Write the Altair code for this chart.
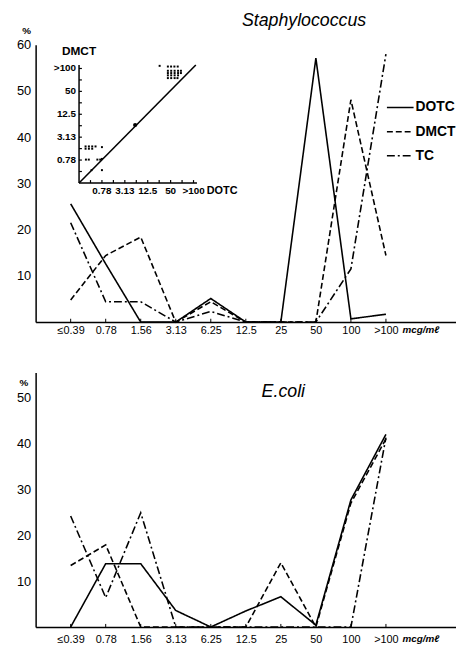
import altair as alt
import pandas as pd

# ---------------- data ----------------
cats = ["≤0.39", "0.78", "1.56", "3.13", "6.25", "12.5", "25", "50", "100", ">100"]
unit = "mcg/mℓ"
series = ["DOTC", "DMCT", "TC"]

staph_dotc = [25.6, 12.6, 0, 0, 5.1, 0, 0, 57.1, 0.7, 1.7]
staph_dmct = [4.8, 14.4, 18.4, 0, 4.4, 0, 0, 0, 48.1, 14.4]
staph_tc = [21.5, 4.4, 4.4, 0, 2.3, 0, 0, 0, 11.5, 58.0]

ecoli_dotc = [0, 13.8, 13.8, 3.6, 0, 3.5, 6.6, 0.4, 27.7, 42.0]
ecoli_dmct = [13.4, 17.9, 0, 0, 0, 0, 14.0, 0, 27.0, 41.0]
ecoli_tc = [24.2, 6.4, 24.9, 0, 0, 0, 0, 0, 0, 41.3]

staph_yticks = [10, 20, 30, 40, 50, 60]
ecoli_yticks = [10, 20, 30, 40, 50]

# inset (DOTC vs DMCT MIC scatter, dilution-step units)
inset_tick_pos = [1, 2, 3, 4, 5, 6, 7, 8, 9, 10]
inset_label_pos = [2, 4, 6, 8, 10]
inset_labels = ["0.78", "3.13", "12.5", "50", ">100"]
inset_dotc = [7.76, 8.04, 8.33, 8.62,
              7.76, 8.05, 8.35, 8.65, 8.90,
              7.76, 8.05, 8.35, 8.65, 8.90,
              7.76, 8.05, 8.35, 8.65,
              7.76, 8.05, 8.35, 8.60,
              7.04,
              0.57, 0.86, 1.15, 1.44,
              0.57, 0.86, 1.15,
              2.00,
              0.60, 0.85,
              1.60, 1.85, 2.00,
              1.09, 2.00]
inset_dmct = [10.17, 10.17, 10.17, 10.17,
              9.80, 9.80, 9.80, 9.80, 9.80,
              9.60, 9.60, 9.60, 9.60, 9.60,
              9.40, 9.40, 9.40, 9.40,
              9.16, 9.16, 9.16, 9.16,
              10.23,
              3.19, 3.19, 3.19, 3.19,
              2.99, 2.99, 2.99,
              3.13,
              2.04, 2.04,
              2.04, 2.04, 2.10,
              1.12, 1.12]
inset_big_dotc = [4.90]
inset_big_dmct = [5.06]
diag_dotc = [0, 10.2]
diag_dmct = [0, 10.3]

FONT = "Liberation Sans"
W = 426
H_TOP = 281
H_BOT = 258


def long_df(vals_list):
    rows = []
    for s, vals in zip(series, vals_list):
        for i, (c, v) in enumerate(zip(cats, vals)):
            rows.append({"cat": c, "idx": i, "series": s, "pct": v})
    return pd.DataFrame(rows)


xscale = alt.Scale(domain=cats + [unit], type="point", padding=1)
dash_scale = alt.Scale(domain=series, range=[[1, 0], [6, 3], [8, 3, 2, 3]])


def main_layer(vals_list, ymax, yticks, height, label_pad, legend, title, title_xy, pct_xy):
    df = long_df(vals_list)
    xenc = alt.X("cat:N", scale=xscale, sort=None,
                 axis=alt.Axis(values=cats, title=None, ticks=False, labelPadding=label_pad,
                               labelAngle=0, labelFont=FONT, labelFontSize=11,
                               labelColor="black", domainColor="black", domainWidth=1.5,
                               grid=False))
    yenc = alt.Y("pct:Q", scale=alt.Scale(domain=[0, ymax], nice=False, zero=True),
                 axis=alt.Axis(values=yticks, title=None, ticks=False, labelPadding=5,
                               labelFont=FONT, labelFontSize=13, labelColor="black",
                               domainColor="black", domainWidth=1.5, grid=False,
                               minExtent=28, maxExtent=28))
    lines = alt.Chart(df).mark_line(color="black", strokeWidth=1.6).encode(
        x=xenc, y=yenc,
        strokeDash=alt.StrokeDash("series:N", scale=dash_scale, legend=legend),
        order=alt.Order("idx:Q"),
    )
    tick_df = pd.DataFrame({"cat": cats, "t0": [0] * len(cats), "t1": [ymax * 0.012] * len(cats)})
    ticks = alt.Chart(tick_df).mark_rule(color="black", strokeWidth=1).encode(
        x=alt.X("cat:N", scale=xscale, sort=None),
        y=alt.Y("t0:Q"), y2="t1:Q")
    unit_df = pd.DataFrame({"cat": [unit], "t": [unit]})
    unit_txt = alt.Chart(unit_df).mark_text(font=FONT, fontSize=10, fontStyle="italic",
                                            fontWeight="bold", baseline="top", color="black").encode(
        x=alt.X("cat:N", scale=xscale, sort=None), y=alt.value(height + label_pad), text="t:N")
    tdf = pd.DataFrame({"t": [title]})
    ttl = alt.Chart(tdf).mark_text(font=FONT, fontSize=18, fontStyle="italic", color="black",
                                   align="center", baseline="middle").encode(
        x=alt.value(title_xy[0]), y=alt.value(title_xy[1]), text="t:N")
    pdf = pd.DataFrame({"t": ["%"]})
    pct = alt.Chart(pdf).mark_text(font=FONT, fontSize=10, fontWeight="bold", color="black",
                                   align="center", baseline="middle").encode(
        x=alt.value(pct_xy[0]), y=alt.value(pct_xy[1]), text="t:N")
    return alt.layer(lines, ticks, unit_txt, ttl, pct)


legend = alt.Legend(orient="none", legendX=355, legendY=49, title=None, symbolType="stroke",
                    symbolSize=729, symbolStrokeWidth=1.5, symbolStrokeColor="black",
                    labelFont=FONT, labelFontSize=14, labelFontWeight="bold", labelColor="black",
                    labelOffset=1, rowPadding=2.5, padding=0)

top_main = main_layer([staph_dotc, staph_dmct, staph_tc], 60, staph_yticks, H_TOP, 3,
                      legend, "Staphylococcus", (272, -24), (-9, -14))

# ---------------- inset ----------------
ix = alt.Scale(domain=[0, 10], range=[44, 160], nice=False, zero=False)
iy = alt.Scale(domain=[0, 10], range=[140, 24], nice=False, zero=False)

pts = alt.Chart(pd.DataFrame({"ix": inset_dotc, "iy": inset_dmct})).mark_point(
    shape="square", filled=True, size=4, color="black", opacity=1).encode(
    x=alt.X("ix:Q", scale=ix, axis=None), y=alt.Y("iy:Q", scale=iy, axis=None))
big = alt.Chart(pd.DataFrame({"ix": inset_big_dotc, "iy": inset_big_dmct})).mark_point(
    shape="circle", filled=True, size=18, color="black", opacity=1).encode(
    x=alt.X("ix:Q", scale=ix, axis=None), y=alt.Y("iy:Q", scale=iy, axis=None))
diag = alt.Chart(pd.DataFrame({"ix": diag_dotc, "iy": diag_dmct})).mark_line(
    color="black", strokeWidth=1.6).encode(
    x=alt.X("ix:Q", scale=ix, axis=None), y=alt.Y("iy:Q", scale=iy, axis=None))
xaxis_line = alt.Chart(pd.DataFrame({"ix": [0], "ix2": [10.3], "iy": [0]})).mark_rule(
    color="black", strokeWidth=1.5).encode(
    x=alt.X("ix:Q", scale=ix, axis=None), x2="ix2:Q", y=alt.Y("iy:Q", scale=iy, axis=None))
yaxis_line = alt.Chart(pd.DataFrame({"ix": [0], "iy": [0], "iy2": [10.3]})).mark_rule(
    color="black", strokeWidth=1.5).encode(
    x=alt.X("ix:Q", scale=ix, axis=None), y=alt.Y("iy:Q", scale=iy, axis=None), y2="iy2:Q")
xt = alt.Chart(pd.DataFrame({"ix": inset_tick_pos, "iy": [0] * 10, "iy2": [0.25] * 10})).mark_rule(
    color="black", strokeWidth=1.2).encode(
    x=alt.X("ix:Q", scale=ix, axis=None), y=alt.Y("iy:Q", scale=iy, axis=None), y2="iy2:Q")
yt = alt.Chart(pd.DataFrame({"iy": inset_tick_pos, "ix": [0] * 10, "ix2": [0.25] * 10})).mark_rule(
    color="black", strokeWidth=1.2).encode(
    x=alt.X("ix:Q", scale=ix, axis=None), x2="ix2:Q", y=alt.Y("iy:Q", scale=iy, axis=None))
xl = alt.Chart(pd.DataFrame({"ix": inset_label_pos, "t": inset_labels})).mark_text(
    font=FONT, fontSize=10, fontWeight="bold", color="black", baseline="middle").encode(
    x=alt.X("ix:Q", scale=ix, axis=None), y=alt.value(148), text="t:N")
yl = alt.Chart(pd.DataFrame({"iy": inset_label_pos, "t": inset_labels})).mark_text(
    font=FONT, fontSize=10, fontWeight="bold", color="black", align="right", baseline="middle").encode(
    x=alt.value(41), y=alt.Y("iy:Q", scale=iy, axis=None), text="t:N")
xname = alt.Chart(pd.DataFrame({"t": ["DOTC"]})).mark_text(
    font=FONT, fontSize=11, fontWeight="bold", color="black").encode(
    x=alt.value(189), y=alt.value(148), text="t:N")
yname = alt.Chart(pd.DataFrame({"t": ["DMCT"]})).mark_text(
    font=FONT, fontSize=12, fontWeight="bold", color="black").encode(
    x=alt.value(44), y=alt.value(6), text="t:N")

inset = alt.layer(xaxis_line, yaxis_line, xt, yt, diag, pts, big, xl, yl, xname, yname)

top = alt.layer(top_main, inset).resolve_scale(x="independent", y="independent").properties(
    width=W, height=H_TOP)

bottom = main_layer([ecoli_dotc, ecoli_dmct, ecoli_tc], 55.5, ecoli_yticks, H_BOT, 7,
                    None, "E.coli", (251, 20), (-12, 11)).properties(width=W, height=H_BOT)

chart = alt.vconcat(top, bottom, spacing=37).resolve_scale(
    strokeDash="independent").resolve_legend(strokeDash="independent").configure_view(
    stroke=None).properties(padding={"left": 0, "top": 0, "right": 0, "bottom": 0},
                            background="white")

chart.save("out.html", embed_options={"renderer": "svg", "actions": False})
